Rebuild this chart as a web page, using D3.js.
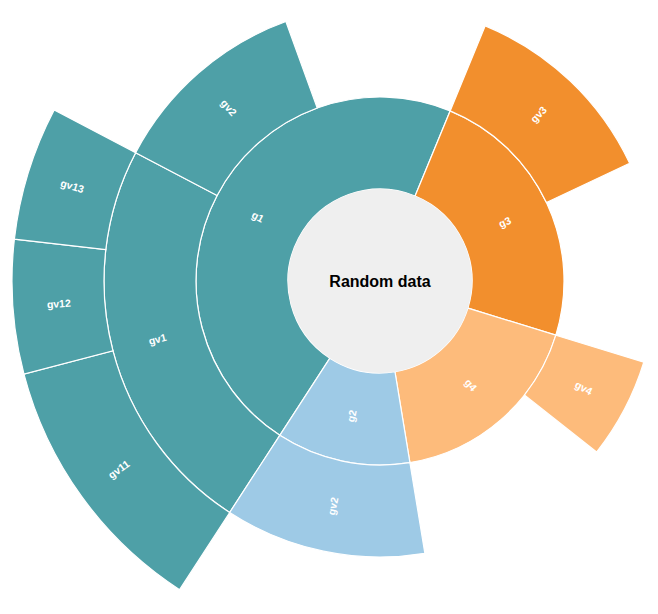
<!DOCTYPE html>
<html>
<head>
<meta charset="utf-8">
<script src="https://cdn.jsdelivr.net/npm/d3@7"></script>
<style>
  html, body { margin: 0; padding: 0; background: #ffffff; }
  svg { display: block; }
</style>
</head>
<body>
<script>
// ---- data ----
const title = "Random data";
const groupNames = ["g1", "g2", "g3", "g4"];
const groupOwnValues = [2, 0, 2, 2];
const groupColors = ["#4ea0a7", "#9ecae6", "#f28f2d", "#fdbb7b"];

const level2Names = ["gv1", "gv2", "gv2", "gv3", "gv4"];
const level2Parents = ["g1", "g1", "g2", "g3", "g4"];
const level2Values = [0, 2, 2, 2, 1];

const level3Names = ["gv11", "gv12", "gv13"];
const level3Parents = [0, 0, 0]; // index into level2 arrays (gv1)
const level3Values = [2, 1, 1];

// ---- build hierarchy ----
const rootData = { name: title, value: 0, children: [] };
const groupNodes = groupNames.map((n, i) => ({ name: n, value: groupOwnValues[i], color: groupColors[i], children: [] }));
groupNodes.forEach(g => rootData.children.push(g));
const l2Nodes = level2Names.map((n, i) => {
  const parent = groupNodes[groupNames.indexOf(level2Parents[i])];
  const node = { name: n, value: level2Values[i], color: parent.color, children: [] };
  parent.children.push(node);
  return node;
});
level3Names.forEach((n, i) => {
  const parent = l2Nodes[level3Parents[i]];
  parent.children.push({ name: n, value: level3Values[i], color: parent.color });
});

const W = 658, H = 614;
const cx = 380, cy = 281;
const ringWidth = 92;
const offset = 213.0 * Math.PI / 180;

const root = d3.hierarchy(rootData)
  .sum(d => d.value || 0)
  .sort((a, b) => b.value - a.value);

d3.partition().size([2 * Math.PI, root.height + 1])(root);

const rScale = d3.scaleLinear().domain([0, root.height + 1]).range([0, ringWidth * (root.height + 1)]);

const arc = d3.arc()
  .startAngle(d => d.x0 + offset)
  .endAngle(d => d.x1 + offset)
  .innerRadius(d => rScale(d.y0))
  .outerRadius(d => rScale(d.y1));

const svg = d3.select("body").append("svg")
  .attr("width", W).attr("height", H);

const g = svg.append("g").attr("transform", `translate(${cx},${cy})`);

const nodes = root.descendants().filter(d => d.depth > 0);

g.selectAll("path.seg")
  .data(nodes)
  .join("path")
  .attr("class", "seg")
  .attr("d", arc)
  .attr("fill", d => d.data.color)
  .attr("stroke", "#ffffff")
  .attr("stroke-width", 1.2);

g.append("circle")
  .attr("r", rScale(1))
  .attr("fill", "#efefef");

g.selectAll("text.lbl")
  .data(nodes)
  .join("text")
  .attr("class", "lbl")
  .attr("transform", d => {
    let a = ((d.x0 + d.x1) / 2 + offset) * 180 / Math.PI;
    a = ((a % 360) + 360) % 360;
    const r = rScale((d.y0 + d.y1) / 2);
    return `rotate(${a - 90}) translate(${r},0) rotate(${a < 180 ? 0 : 180})`;
  })
  .attr("text-anchor", "middle")
  .attr("dy", "0.35em")
  .attr("fill", "#ffffff")
  .style("font-family", "Arial, 'Liberation Sans', sans-serif")
  .style("font-size", "10.5px")
  .style("font-weight", "bold")
  .text(d => d.data.name);

g.append("text")
  .attr("text-anchor", "middle")
  .attr("dy", "0.35em")
  .attr("fill", "#000000")
  .style("font-family", "Arial, 'Liberation Sans', sans-serif")
  .style("font-size", "16px")
  .style("font-weight", "bold")
  .text(title);
</script>
</body>
</html>
